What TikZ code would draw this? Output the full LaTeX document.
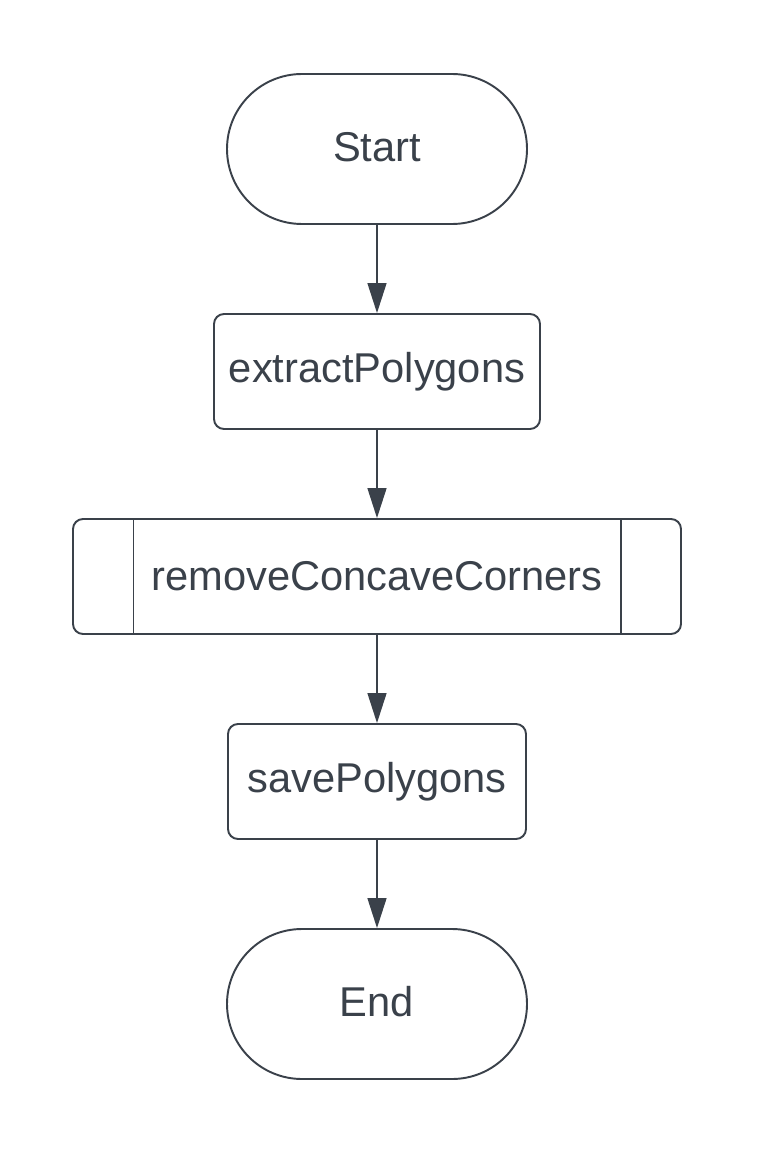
\documentclass[tikz,border=0pt]{standalone}
\usepackage{fontspec}
\setmainfont{Liberation Sans}
\usetikzlibrary{arrows.meta}

\definecolor{ink}{HTML}{3A414A}

\tikzset{
  terminal/.style={draw=ink, line width=1.1pt, rounded corners=1.5cm,
    minimum width=6cm, minimum height=3cm, text=ink,
    font=\fontsize{23.7}{28}\selectfont},
  process/.style={draw=ink, line width=1.1pt, rounded corners=0.2cm,
    minimum height=2.3cm, text=ink, font=\fontsize{23.7}{28}\selectfont},
  flow/.style={draw=ink, line width=0.85pt,
    -{Triangle[length=0.6cm,width=0.38cm]}}
}

\begin{document}
\begin{tikzpicture}
  \useasboundingbox (0,0) rectangle (15.16,-23.1);
  \node (start)    at (7.54,-2.98)  [terminal] {\raisebox{0.1cm}{Start}};
  \node (extract)  at (7.54,-7.43)  [process, minimum width=6.52cm] {extractPolygons};
  \node (concave)  at (7.54,-11.53) [process, minimum width=12.16cm] {removeConcaveCorners};
  \node (save)     at (7.54,-15.63) [process, minimum width=5.96cm] {savePolygons};
  \node (end)      at (7.54,-20.08) [terminal] {\raisebox{0.1cm}{End}};
  % subroutine side bars
  \draw[ink, line width=0.6pt] ([xshift=1.22cm]concave.north west) -- ([xshift=1.22cm]concave.south west);
  \draw[ink, line width=0.6pt] ([xshift=-1.22cm]concave.north east) -- ([xshift=-1.22cm]concave.south east);
  \draw[flow] (start) -- (extract);
  \draw[flow] (extract) -- (concave);
  \draw[flow] (concave) -- (save);
  \draw[flow] (save) -- (end);
\end{tikzpicture}
\end{document}
